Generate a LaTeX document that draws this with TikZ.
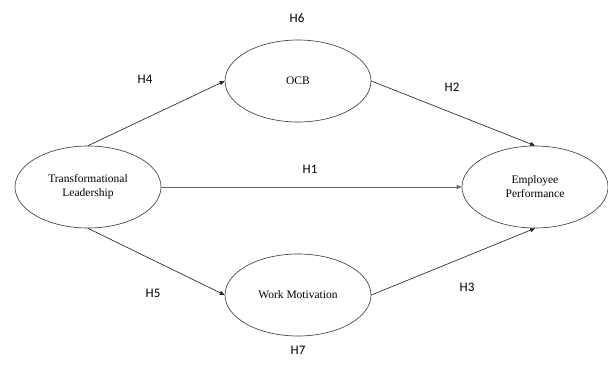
\documentclass[tikz,border=0pt]{standalone}
\usepackage{fontspec}
\setmainfont{Liberation Serif}
\newfontfamily\labfont{Carlito}
\usetikzlibrary{arrows.meta,shapes.geometric}
\begin{document}
\begin{tikzpicture}[x=1pt,y=-1pt,
  construct/.style={draw=black!75,line width=0.65pt,ellipse,minimum width=146pt,minimum height=82pt,inner sep=0pt,align=center,font=\fontsize{11.5}{14}\selectfont},
  link/.style={draw=black!85,line width=0.65pt,-{Triangle[length=5pt,width=4pt]}},
  hyp/.style={font=\labfont\fontsize{13}{15}\selectfont,inner sep=0pt}]
\useasboundingbox (0,0) rectangle (608,367);
\node[construct] (tl) at (88,187) {Transformational\\Leadership};
\node[construct] (ocb) at (298,81) {OCB};
\node[construct] (ep) at (535,187) {Employee\\Performance};
\node[construct] (wm) at (298,295) {Work Motivation};
\draw[link] (tl.north) -- (ocb.west);
\draw[link] (ocb.east) -- (ep.north);
\draw[link,draw=black!60,line width=1pt] (tl.east) -- (ep.west);
\draw[link] (tl.south) -- (wm.west);
\draw[link] (wm.east) -- (ep.south);
\node[hyp] (h6) at (297,18) {H6};
\node[hyp] (h4) at (145,79) {H4};
\node[hyp] (h2) at (452,87) {H2};
\node[hyp] (h1) at (310,169) {H1};
\node[hyp] (h5) at (153,293) {H5};
\node[hyp] (h3) at (467,287) {H3};
\node[hyp] (h7) at (298,350) {H7};
\end{tikzpicture}
\end{document}
